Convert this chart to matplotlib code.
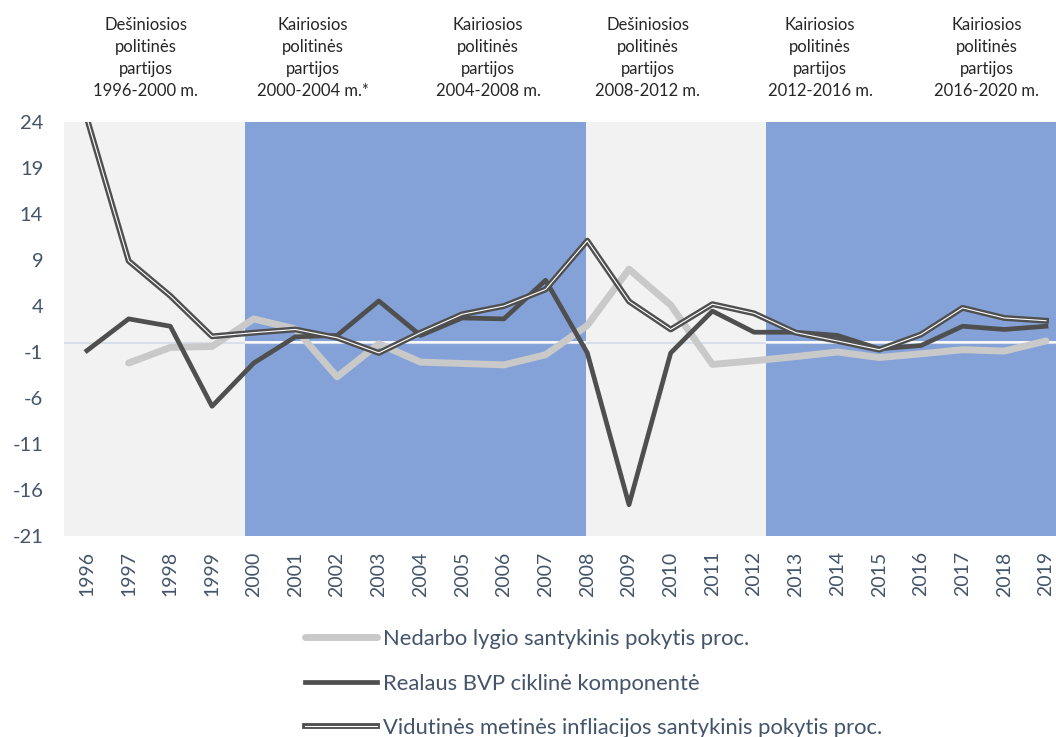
import numpy as np
import matplotlib
matplotlib.use('Agg')
from matplotlib import pyplot as plt
from matplotlib import patheffects as pe
from matplotlib.transforms import blended_transform_factory

plt.rcParams['font.family'] = ['Lato', 'DejaVu Sans']
plt.rcParams['axes.unicode_minus'] = False

# data
years = [1996, 1997, 1998, 1999, 2000, 2001, 2002, 2003, 2004, 2005, 2006, 2007,
         2008, 2009, 2010, 2011, 2012, 2013, 2014, 2015, 2016, 2017, 2018, 2019]
unemployment = [np.nan, -2.2, -0.5, -0.4, 2.6, 1.5, -3.7, -0.1, -2.1, -2.25, -2.4, -1.3,
                1.9, 8.0, 4.1, -2.35, -1.95, -1.5, -1.0, -1.6, -1.2, -0.75, -0.9, 0.2]
gdp_cycle = [-0.85, 2.6, 1.8, -6.9, -2.2, 0.65, 0.8, 4.55, 0.8, 2.7, 2.6, 6.8,
             -1.1, -17.6, -1.1, 3.45, 1.15, 1.15, 0.8, -0.65, -0.3, 1.8, 1.45, 1.8]
inflation = [24.4, 8.9, 5.1, 0.7, 1.1, 1.45, 0.55, -1.1, 1.1, 3.1, 4.0, 5.8,
             11.1, 4.5, 1.45, 4.2, 3.2, 1.1, 0.2, -0.75, 0.9, 3.8, 2.7, 2.4]

labels = ['Nedarbo lygio santykinis pokytis proc.',
          'Realaus BVP ciklinė komponentė',
          'Vidutinės metinės infliacijos santykinis pokytis proc.']

# government periods (background shading)
period_edges = [1995.45, 1999.79, 2007.98, 2012.29, 2019.24]
period_left = [False, True, False, True]   # True = left-wing (blue)
period_names = ['Dešiniosios\npolitinės\npartijos\n1996-2000 m.',
                'Kairiosios\npolitinės\npartijos\n2000-2004 m.*',
                'Kairiosios\npolitinės\npartijos\n2004-2008 m.',
                'Dešiniosios\npolitinės\npartijos\n2008-2012 m.',
                'Kairiosios\npolitinės\npartijos\n2012-2016 m.',
                'Kairiosios\npolitinės\npartijos\n2016-2020 m.']
name_x = [1997.41, 2001.42, 2005.62, 2009.45, 2013.58, 2017.58]

blue = '#84a2d7'
grey_bg = '#f2f2f2'
dark = '#4f4f4f'
light = '#c9c9c9'
txt = '#44546a'

fig = plt.figure(figsize=(10.56, 7.37), dpi=100)
ax = fig.add_axes([64/1056, 1-536/737, 1-64/1056, (536-122)/737])

for i in range(len(period_left)):
    c = blue if period_left[i] else grey_bg
    ax.axvspan(period_edges[i], period_edges[i+1], color=c, lw=0, zorder=0)

# zero line
ax.axhline(0, color='#d8dfeb', lw=1.5, zorder=1)
for i in range(len(period_left)):
    if period_left[i]:
        ax.hlines(0.12, period_edges[i], period_edges[i+1], color='white', lw=1.3, zorder=1)

ax.plot(years, unemployment, color=light, lw=5, solid_capstyle='round', label=labels[0], zorder=2)
ax.plot(years, gdp_cycle, color=dark, lw=3.4, label=labels[1], zorder=3)
ax.plot(years, inflation, color='white', lw=0.8, label=labels[2], zorder=4,
        path_effects=[pe.Stroke(linewidth=4.2, foreground=dark), pe.Normal()])

ax.set_xlim(period_edges[0], period_edges[-1])
ax.set_ylim(-21, 24)
ax.set_yticks(np.arange(-21, 25, 5))
ax.set_xticks(years)
ax.set_xticklabels([str(y) for y in years], rotation=90)
ax.tick_params(axis='y', length=0, pad=15, labelsize=14.5, labelcolor=txt)
ax.tick_params(axis='x', length=0, pad=11, labelsize=14, labelcolor=txt)
for s in ax.spines.values():
    s.set_visible(False)

# period labels above the plot
tr = blended_transform_factory(ax.transData, fig.transFigure)
for x, name in zip(name_x, period_names):
    ax.text(x, 1-58/737, name, transform=tr, ha='center', va='center',
            fontsize=12, color='#262626', linespacing=1.45, clip_on=False)

fig.legend(loc='upper left', bbox_to_anchor=(305/1056, 1-629/737), frameon=False,
           fontsize=15.8, labelcolor=txt, handlelength=3.3, handletextpad=0.27,
           labelspacing=1.12, borderpad=0, borderaxespad=0)

plt.savefig('out.png', dpi=100)
